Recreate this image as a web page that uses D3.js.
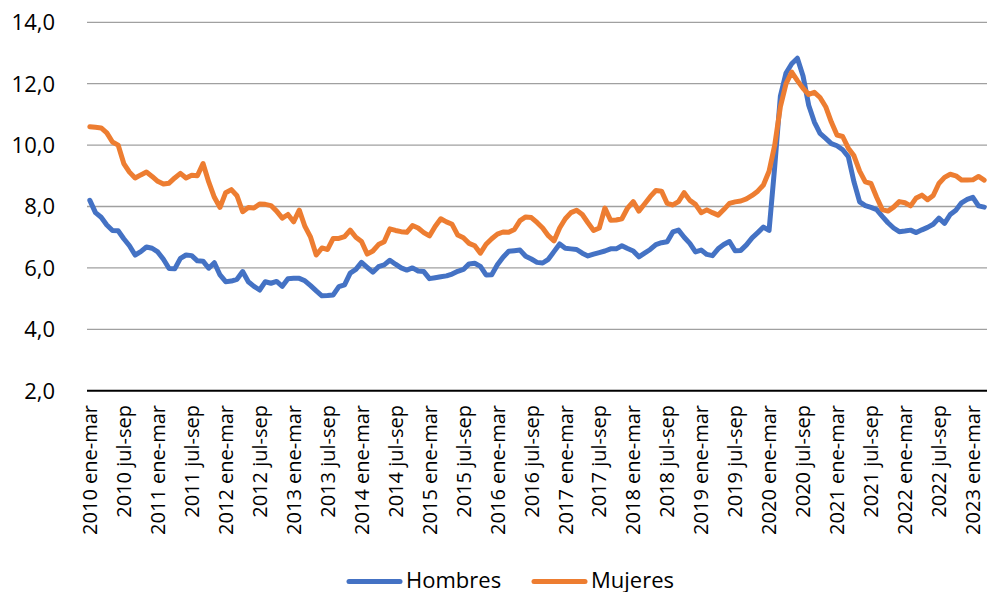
<!DOCTYPE html>
<html>
<head>
<meta charset="utf-8">
<script src="https://cdn.jsdelivr.net/npm/d3@7"></script>
<style>
  body { margin: 0; background: #fff; }
  svg { display: block; }
  text { font-family: "Open Sans", Lato, sans-serif; fill: #000; }
</style>
</head>
<body>
<div id="chart"></div>
<script>
// trimestres móviles
const years = d3.range(2010, 2024);
const quarters = ['ene-mar', 'feb-abr', 'mar-may', 'abr-jun', 'may-jul', 'jun-ago',
    'jul-sep', 'ago-oct', 'sep-nov', 'oct-dic', 'nov-ene', 'dic-feb'];
const categories = years.flatMap(y => quarters.map(q => `${y} ${q}`)).slice(0, 159);
const shownLabels = ['ene-mar', 'jul-sep'];

const hombres = [
    8.2, 7.8, 7.65, 7.4, 7.22, 7.21, 6.95, 6.72, 6.42, 6.53,
    6.68, 6.64, 6.52, 6.28, 5.98, 5.97, 6.31, 6.42, 6.4, 6.23,
    6.22, 5.99, 6.17, 5.77, 5.55, 5.57, 5.63, 5.88, 5.55, 5.4,
    5.28, 5.55, 5.5, 5.56, 5.4, 5.65, 5.66, 5.66, 5.58, 5.42,
    5.25, 5.09, 5.1, 5.12, 5.39, 5.45, 5.83, 5.95, 6.18, 6.02,
    5.86, 6.04, 6.1, 6.25, 6.12, 6.0, 5.93, 6.0, 5.9, 5.88,
    5.65, 5.68, 5.71, 5.74, 5.8, 5.89, 5.95, 6.13, 6.15, 6.05,
    5.77, 5.78, 6.1, 6.35, 6.54, 6.56, 6.58, 6.38, 6.29, 6.18,
    6.16, 6.28, 6.53, 6.78, 6.64, 6.62, 6.6, 6.48, 6.39, 6.45,
    6.5, 6.55, 6.62, 6.62, 6.72, 6.63, 6.55, 6.36, 6.48, 6.6,
    6.76, 6.82, 6.85, 7.17, 7.23, 7.0, 6.8, 6.52, 6.58, 6.44,
    6.4, 6.62, 6.76, 6.86, 6.56, 6.57, 6.75, 6.98, 7.15, 7.33,
    7.22, 9.3, 11.6, 12.35, 12.65, 12.83, 12.25, 11.3, 10.75, 10.38,
    10.22, 10.05, 9.98, 9.85, 9.62, 8.8, 8.15, 8.03, 7.97, 7.9,
    7.68, 7.47, 7.3, 7.18, 7.2, 7.23, 7.15, 7.24, 7.32, 7.42,
    7.62, 7.45, 7.74, 7.88, 8.12, 8.23, 8.3, 8.02, 7.98
];
const mujeres = [
    10.6, 10.58, 10.56, 10.4, 10.1, 10.0, 9.4, 9.12, 8.93, 9.03,
    9.12, 8.98, 8.82, 8.73, 8.76, 8.93, 9.08, 8.93, 9.02, 9.0,
    9.4, 8.8, 8.3, 7.97, 8.45, 8.55, 8.35, 7.83, 7.97, 7.95,
    8.08, 8.07, 8.03, 7.85, 7.62, 7.74, 7.5, 7.88, 7.35, 7.0,
    6.42, 6.65, 6.6, 6.96, 6.96, 7.02, 7.23, 7.0, 6.86, 6.45,
    6.55, 6.76, 6.85, 7.27, 7.22, 7.18, 7.16, 7.38, 7.3, 7.15,
    7.04, 7.35, 7.6, 7.5, 7.42, 7.07, 6.98, 6.8, 6.72, 6.48,
    6.77, 6.95, 7.1, 7.17, 7.16, 7.25, 7.54, 7.66, 7.64, 7.48,
    7.3, 7.05, 6.88, 7.3, 7.6, 7.8, 7.88, 7.74, 7.47, 7.22,
    7.3, 7.95, 7.55, 7.56, 7.6, 7.95, 8.16, 7.85, 8.08, 8.32,
    8.52, 8.5, 8.1, 8.05, 8.16, 8.45, 8.2, 8.07, 7.8, 7.89,
    7.8, 7.72, 7.9, 8.1, 8.15, 8.18, 8.25, 8.36, 8.5, 8.7,
    9.15, 10.0, 11.25, 12.0, 12.38, 12.1, 11.85, 11.65, 11.72, 11.55,
    11.25, 10.75, 10.33, 10.28, 9.9, 9.65, 9.15, 8.8, 8.75, 8.3,
    7.9, 7.85, 7.98, 8.16, 8.12, 8.02, 8.28, 8.37, 8.22, 8.36,
    8.75, 8.95, 9.05, 9.0, 8.86, 8.86, 8.87, 8.98, 8.86
];
const yTicks = [2, 4, 6, 8, 10, 12, 14];

const series = [
    {name: 'Hombres', values: hombres, color: '#4472C4'},
    {name: 'Mujeres', values: mujeres, color: '#ED7D31'}
];

const width = 987;
const height = 592;
const margin = {top: 22.3, right: 0, bottom: 201.3, left: 87};

const svg = d3.select('#chart')
    .append('svg')
        .attr('width', width)
        .attr('height', height);

const x = d3.scalePoint()
    .domain(categories)
    .range([margin.left, width - margin.right])
    .padding(0.5);
const y = d3.scaleLinear()
    .domain([2, 14])
    .range([height - margin.bottom, margin.top]);

// gridlines
svg.append('g')
    .selectAll('line')
    .data(yTicks.slice(1))
    .join('line')
        .attr('x1', margin.left)
        .attr('x2', width - margin.right)
        .attr('y1', d => y(d))
        .attr('y2', d => y(d))
        .attr('stroke', '#a0a0a0')
        .attr('stroke-width', 1.3);

// eje x
svg.append('line')
    .attr('x1', margin.left)
    .attr('x2', width - margin.right)
    .attr('y1', y(2))
    .attr('y2', y(2))
    .attr('stroke', '#000')
    .attr('stroke-width', 2);

svg.append('g')
    .selectAll('text')
    .data(yTicks)
    .join('text')
        .attr('x', 55)
        .attr('y', d => y(d))
        .attr('dy', '0.36em')
        .attr('text-anchor', 'end')
        .style('font-size', '22px')
        .text(d => d3.format('.1f')(d).replace('.', ','));

svg.append('g')
    .selectAll('text')
    .data(categories.filter(c => shownLabels.includes(c.split(' ')[1])))
    .join('text')
        .attr('transform', d => `translate(${x(d)},405) rotate(-90)`)
        .attr('dy', '0.36em')
        .attr('text-anchor', 'end')
        .style('font-size', '20px')
        .text(d => d);

const line = d3.line()
    .x((d, i) => x(categories[i]))
    .y(d => y(d));

svg.append('g')
    .selectAll('path')
    .data(series)
    .join('path')
        .attr('fill', 'none')
        .attr('stroke', d => d.color)
        .attr('stroke-width', 5)
        .attr('stroke-linejoin', 'round')
        .attr('stroke-linecap', 'round')
        .attr('d', d => line(d.values));

// leyenda
const legendX = [347, 532];
const legend = svg.append('g')
    .selectAll('g')
    .data(series)
    .join('g')
        .attr('transform', (d, i) => `translate(${legendX[i]},581.5)`);
legend.append('line')
    .attr('x1', 2)
    .attr('x2', 53)
    .attr('stroke', d => d.color)
    .attr('stroke-width', 5)
    .attr('stroke-linecap', 'round');
legend.append('text')
    .attr('x', 59)
    .attr('y', 6)
    .style('font-size', '22px')
    .text(d => d.name);
</script>
</body>
</html>
